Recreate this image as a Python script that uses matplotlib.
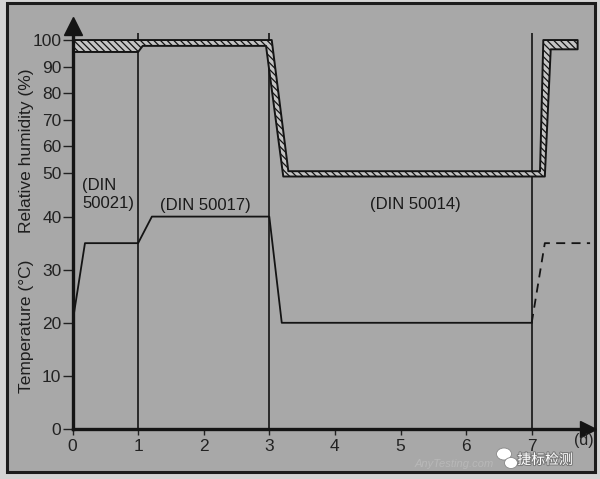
import numpy as np
import matplotlib
matplotlib.use("Agg")
import matplotlib.pyplot as plt
from matplotlib.patches import Rectangle, Ellipse
import matplotlib.patheffects as pe

# ---- test-cycle data -------------------------------------------------------
# Temperature programme (day, degC)
temp_days = [0.0, 0.19, 1.0, 1.21, 3.0, 3.19, 7.0]
temp_vals = [20, 35, 35, 40, 40, 20, 20]
# start of the following cycle (dashed)
next_days = [7.0, 7.2, 7.89]
next_temp = [20, 35, 35]

# Relative-humidity tolerance band (day, %RH): upper and lower edges
rh_upper_days = [0.0, 3.037, 3.29, 7.127, 7.177, 7.70]
rh_upper = [100, 100, 50.5, 50.5, 100, 100]
rh_lower_days = [0.0, 1.0, 1.07, 2.95, 3.213, 7.20, 7.29, 7.70]
rh_lower = [95.5, 95.5, 97.8, 97.8, 48.5, 48.5, 96.5, 96.5]

phase_bounds = [1, 3, 7]
phase_names = ["(DIN\n50021)", "(DIN 50017)", "(DIN 50014)"]

x_ticks = [0, 1, 2, 3, 4, 5, 6, 7]
temp_ticks = [0, 10, 20, 30, 40]
rh_ticks = [50, 60, 70, 80, 90, 100]


def rh_y(h):
    """Humidity shares the left axis above the temperature range."""
    return 23.35 + 0.499 * np.asarray(h, dtype=float)


plt.rcParams["font.family"] = ["Liberation Sans", "DejaVu Sans"]
plt.rcParams["hatch.linewidth"] = 0.9

W, H = 600, 479
fig = plt.figure(figsize=(W / 100, H / 100), dpi=100)
fig.patch.set_facecolor("#d4d4d4")

# scanned panel with dark frame
fig.add_artist(Rectangle((7 / W, 1 - 472 / H), (595 - 7) / W, (472 - 3) / H,
                         transform=fig.transFigure, facecolor="#a8a8a8",
                         edgecolor="#1c1c1c", linewidth=2.2, zorder=0))

x0, x1 = 72.5, 588.0
y0, y1 = 429.0, 26.0
ax = fig.add_axes([x0 / W, 1 - y0 / H, (x1 - x0) / W, (y0 - y1) / H])
ax.set_facecolor("none")
ax.set_xlim(0, (x1 - x0) / 65.6)
ax.set_ylim(0, (y0 - y1) / 5.31)

ink = "#141414"

# humidity tolerance band
grid = np.unique(np.concatenate([rh_upper_days, rh_lower_days]))
up = rh_y(np.interp(grid, rh_upper_days, rh_upper))
lo = rh_y(np.interp(grid, rh_lower_days, rh_lower))
ax.fill_between(grid, lo, up, facecolor="#c4c4c4", edgecolor=ink,
                hatch="\\\\\\\\\\", linewidth=1.4, zorder=3)

# phase boundaries
ax.vlines(phase_bounds, 0, 74.6, color=ink, linewidth=1.2, zorder=2)

# temperature
ax.plot(temp_days, temp_vals, color=ink, linewidth=1.3, zorder=4)
ax.plot(next_days, next_temp, color=ink, linewidth=1.3, dashes=(5, 3.5),
        zorder=4, clip_on=False)

# phase labels
ax.text(0.145, 44.2, phase_names[0], ha="left", va="center", fontsize=12,
        color="#1a1a1a", linespacing=1.25)
ax.text(2.02, 42.1, phase_names[1], ha="center", va="center", fontsize=12,
        color="#1a1a1a")
ax.text(5.22, 42.2, phase_names[2], ha="center", va="center", fontsize=12,
        color="#1a1a1a")

# axes styling
for s in ("top", "right"):
    ax.spines[s].set_visible(False)
for s in ("left", "bottom"):
    ax.spines[s].set_linewidth(2.4)
    ax.spines[s].set_color(ink)
    ax.spines[s].set_zorder(5)

ax.set_xticks(x_ticks)
ax.set_xticklabels([str(v) for v in x_ticks])
yt = list(temp_ticks) + list(rh_y(rh_ticks))
ax.set_yticks(yt)
ax.set_yticklabels([str(v) for v in temp_ticks] + [str(v) for v in rh_ticks])
ax.tick_params(axis="x", direction="out", length=4, width=1.0, pad=3,
               labelsize=12.5, colors="#222222")
ax.tick_params(axis="y", direction="out", length=7, width=1.0, pad=1,
               labelsize=12.5, colors="#222222")

# axis arrows
ax.plot([0], [1], marker="^", color=ink, markersize=13, transform=ax.transAxes,
        clip_on=False, zorder=6)
ax.plot([1], [0], marker=">", color=ink, markersize=11, transform=ax.transAxes,
        clip_on=False, zorder=6)

# axis titles
fig.text(27 / W, 1 - 150.5 / H, "Relative humidity (%)", rotation=90,
         ha="center", va="center", fontsize=12.5, color="#1e1e1e")
fig.text(27 / W, 1 - 326 / H, "Temperature (°C)", rotation=90,
         ha="center", va="center", fontsize=12.5, color="#1e1e1e")
fig.text(594 / W, 1 - 441 / H, "(d)", ha="right", va="center",
         fontsize=11.5, color="#222222")

# publisher mark
fig.text(494 / W, 1 - 464 / H, "AnyTesting.com", ha="right", va="center",
         fontsize=8, style="italic", color="#c8c8c8", alpha=0.5)
fig.add_artist(Ellipse((504 / W, 1 - 454 / H), 15 / W, 12 / H,
                       transform=fig.transFigure, facecolor="white",
                       edgecolor="#888888", linewidth=0.6, zorder=8))
fig.add_artist(Ellipse((511 / W, 1 - 463 / H), 13 / W, 11 / H,
                       transform=fig.transFigure, facecolor="white",
                       edgecolor="#888888", linewidth=0.6, zorder=9))
fig.text(545 / W, 1 - 460 / H, "捷标检测", ha="center", va="center",
         fontsize=10, color="white",
         family=["Noto Sans CJK SC", "DejaVu Sans"], zorder=10,
         path_effects=[pe.withStroke(linewidth=1.5, foreground="#7a7a7a")])

fig.savefig("out.png", dpi=100, facecolor=fig.get_facecolor())
